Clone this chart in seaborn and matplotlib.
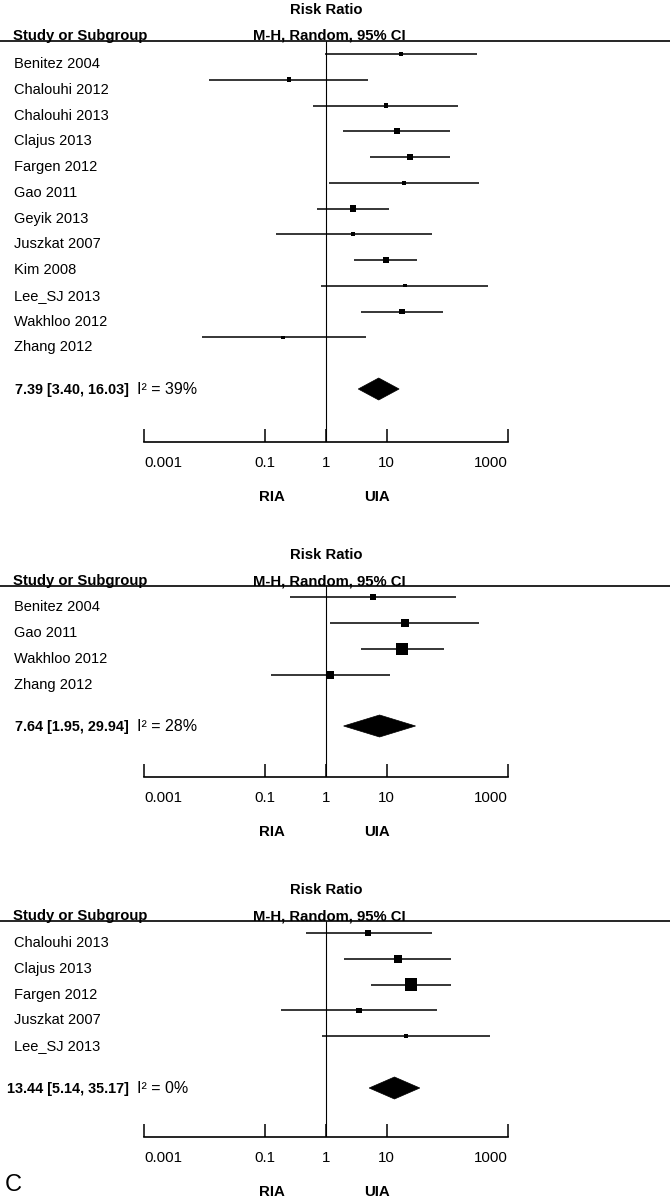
import numpy as np
import pandas as pd
import matplotlib
matplotlib.use("Agg")
import matplotlib.pyplot as plt
import matplotlib.transforms as mtransforms
from matplotlib.patches import Polygon
import seaborn as sns

sns.set_theme(style="white")
plt.rcParams["font.family"] = ["Liberation Sans", "DejaVu Sans"]
plt.rcParams["text.color"] = "black"
plt.rcParams["xtick.color"] = "black"
plt.rcParams["axes.labelcolor"] = "black"

# ---------------- data ----------------
studies1 = ["Benitez 2004", "Chalouhi 2012", "Chalouhi 2013", "Clajus 2013", "Fargen 2012",
            "Gao 2011", "Geyik 2013", "Juszkat 2007", "Kim 2008", "Lee_SJ 2013",
            "Wakhloo 2012", "Zhang 2012"]
rr1 = [17.2, 0.245, 9.75, 14.8, 24.3, 19.3, 2.79, 2.79, 9.75, 20.0, 17.9, 0.195]
lo1 = [0.96, 0.0118, 0.61, 1.9, 5.3, 1.12, 0.71, 0.15, 2.89, 0.83, 3.78, 0.0090]
hi1 = [308, 4.9, 150, 111, 111, 333, 10.9, 55.9, 31.6, 468, 84.8, 4.56]
w1 = [6.8, 6.8, 6.8, 10.6, 12.7, 5.1, 12.7, 5.1, 15.3, 3.8, 10.6, 3.8]
pooled1 = [7.39, 3.40, 16.03]
i2_1 = 39

studies2 = ["Benitez 2004", "Gao 2011", "Wakhloo 2012", "Zhang 2012"]
rr2 = [5.95, 20.0, 17.9, 1.16]
lo2 = [0.255, 1.16, 3.78, 0.124]
hi2 = [139, 333, 88, 11.3]
w2 = [13.3, 18.1, 44.8, 23.7]
pooled2 = [7.64, 1.95, 29.94]
i2_2 = 28

studies3 = ["Chalouhi 2013", "Clajus 2013", "Fargen 2012", "Juszkat 2007", "Lee_SJ 2013"]
rr3 = [4.9, 15.4, 25.2, 3.5, 20.8]
lo3 = [0.47, 1.98, 5.5, 0.18, 0.86]
hi3 = [55.9, 115, 115, 67.5, 505]
w3 = [12.7, 20.8, 51.3, 8.5, 6.8]
pooled3 = [13.44, 5.14, 35.17]
i2_3 = 0

tick_values = [0.001, 0.1, 1, 10, 1000]
tick_labels = ["0.001", "0.1", "1", "10", "1000"]
favours_left = "RIA"
favours_right = "UIA"
panel_letter = "C"

# ---------------- layout ----------------
W, H = 670, 1200
fig = plt.figure(figsize=(W / 100, H / 100), dpi=100)

px_one = 326.0
px_decade = 60.67
xlim = (10 ** (-px_one / px_decade), 10 ** ((W - px_one) / px_decade))

panels = [
    dict(studies=studies1, rr=rr1, lo=lo1, hi=hi1, w=w1, pooled=pooled1, i2=i2_1,
         top=0, header=41, first=54, step=25.75, yc=389, axis=442),
    dict(studies=studies2, rr=rr2, lo=lo2, hi=hi2, w=w2, pooled=pooled2, i2=i2_2,
         top=520, header=586, first=597, step=26.0, yc=726, axis=777),
    dict(studies=studies3, rr=rr3, lo=lo3, hi=hi3, w=w3, pooled=pooled3, i2=i2_3,
         top=855, header=921, first=933, step=25.75, yc=1088, axis=1137),
]

area_per_w = 1.6  # pt^2 per % weight

for p in panels:
    ax = fig.add_axes([0, 1 - p["axis"] / H, 1, (p["axis"] - p["top"]) / H])
    ax.set_xscale("log")
    ax.set_xlim(*xlim)
    ax.set_ylim(p["axis"], p["top"])
    ax.patch.set_alpha(0)
    bt = mtransforms.blended_transform_factory(ax.transAxes, ax.transData)

    n = len(p["studies"])
    df = pd.DataFrame({
        "study": p["studies"], "rr": p["rr"], "lo": p["lo"], "hi": p["hi"], "w": p["w"],
        "y": [p["first"] + p["step"] * i for i in range(n)],
    })

    # CI lines
    ax.hlines(df["y"], df["lo"], df["hi"], color="black", lw=1.1, zorder=2)
    # weighted squares
    sns.scatterplot(data=df, x="rr", y="y", size="w",
                    sizes=(area_per_w * min(p["w"]), area_per_w * max(p["w"])),
                    marker="s", color="black", linewidth=0, legend=False, ax=ax, zorder=3)

    # line of no effect
    ax.vlines(1, p["header"], p["axis"], color="black", lw=0.8, zorder=1)
    # header line
    ax.axhline(p["header"], color="black", lw=1.2)

    # header texts
    ax.text(13 / W, p["header"] - 1, "Study or Subgroup", transform=bt, fontsize=10.7,
            fontweight="bold", ha="left", va="baseline")
    ax.text(329 / W, p["header"] - 1, "M-H, Random, 95% CI", transform=bt, fontsize=10.7,
            fontweight="bold", ha="center", va="baseline")
    ax.text(326 / W, p["header"] - 27, "Risk Ratio", transform=bt, fontsize=10.7,
            fontweight="bold", ha="center", va="baseline")

    # study labels
    for s, y in zip(df["study"], df["y"]):
        ax.text(14 / W, y + 14, s, transform=bt, fontsize=10.5, ha="left", va="baseline")

    # pooled
    est, plo, phi = p["pooled"]
    yc = p["yc"]
    ax.add_patch(Polygon([(plo, yc), (est, yc - 11), (phi, yc), (est, yc + 11)],
                         closed=True, facecolor="black", edgecolor="black", lw=0.5, zorder=3))
    ax.text(129 / W, yc + 5, f"{est:.2f} [{plo:.2f}, {phi:.2f}]", transform=bt,
            fontsize=10.4, fontweight="bold", ha="right", va="baseline")
    ax.text(137 / W, yc + 5, f"I² = {p['i2']}%", transform=bt, fontsize=11.5,
            ha="left", va="baseline")

    # axis
    for side in ["top", "left", "right"]:
        ax.spines[side].set_visible(False)
    ax.spines["bottom"].set_bounds(tick_values[0], tick_values[-1])
    ax.spines["bottom"].set_linewidth(1.2)
    ax.spines["bottom"].set_color("black")
    ax.set_xticks(tick_values)
    ax.set_xticklabels(tick_labels)
    ax.xaxis.set_minor_locator(matplotlib.ticker.NullLocator())
    ax.tick_params(axis="x", direction="in", length=9.5, width=1.1, color="black",
                   pad=10, labelsize=10.8, labelcolor="black", bottom=True)
    labs = ax.get_xticklabels()
    labs[0].set_horizontalalignment("left")
    labs[-1].set_horizontalalignment("right")
    ax.set_yticks([])
    ax.set_xlabel("")
    ax.set_ylabel("")
    ax.grid(False)

    ax.text(272 / W, p["axis"] + 59, favours_left, transform=bt, fontsize=10.8,
            fontweight="bold", ha="center", va="baseline")
    ax.text(377 / W, p["axis"] + 59, favours_right, transform=bt, fontsize=10.8,
            fontweight="bold", ha="center", va="baseline")

fig.text(5 / W, 1 - 1191 / H, panel_letter, fontsize=17, ha="left", va="baseline")

fig.savefig("out.png", dpi=100)
